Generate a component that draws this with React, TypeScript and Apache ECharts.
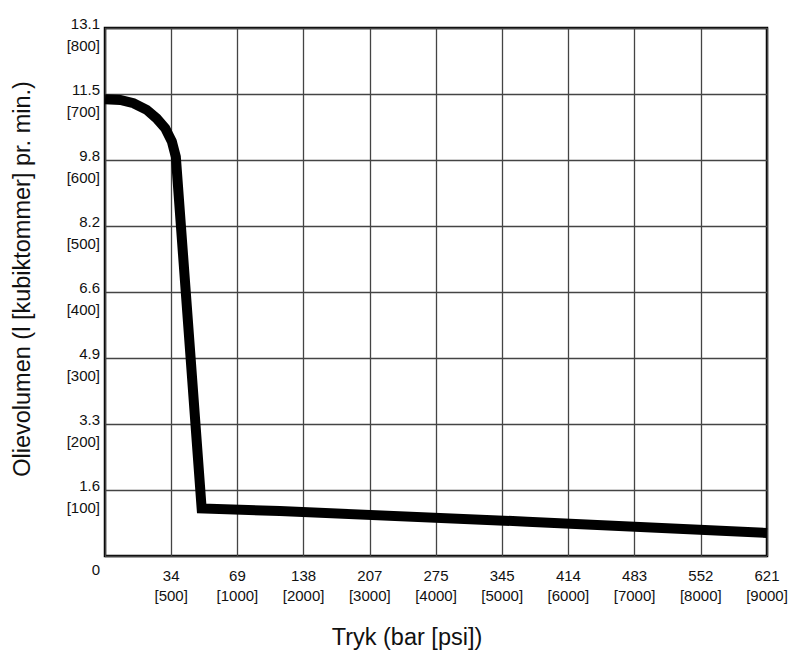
import React, { useEffect, useRef } from "react";
import * as echarts from "echarts";

// Pressure axis positions (grid steps: 0, 500 psi, 1000 psi, 2000 psi ... 9000 psi)
const xBar = ["", "34", "69", "138", "207", "275", "345", "414", "483", "552", "621"];
const xPsi = ["", "500", "1000", "2000", "3000", "4000", "5000", "6000", "7000", "8000", "9000"];

// Oil volume axis: litres per minute and [cubic inches]
const yLitres = ["0", "1.6", "3.3", "4.9", "6.6", "8.2", "9.8", "11.5", "13.1"];

// Curve: position on the pressure axis (grid steps) and flow in cubic inches
const curveX = [0, 0.23, 0.43, 0.63, 0.78, 0.91, 1.01, 1.07, 1.46, 2.64, 6.38, 10];
const curveFlow = [692, 691, 686, 676, 663, 648, 628, 605, 72, 68, 52, 35];

const FONT = "'Liberation Sans', Arial, Helvetica, sans-serif";

export default function App() {
  const ref = useRef<HTMLDivElement>(null);

  useEffect(() => {
    if (!ref.current) return;
    const chart = echarts.init(ref.current, undefined, { renderer: "svg" });
    const data = curveX.map((x, i) => [x, curveFlow[i]]);
    const tickLabel = { fontFamily: FONT, fontSize: 15, color: "#111" };

    chart.setOption({
      animation: false,
      backgroundColor: "#fff",
      grid: {
        left: 105,
        top: 28,
        width: 662,
        height: 528,
        show: true,
        borderColor: "#000",
        borderWidth: 2.5,
        backgroundColor: "transparent",
      },
      xAxis: {
        type: "value",
        min: 0,
        max: 10,
        interval: 1,
        axisLine: { show: false },
        axisTick: { show: false },
        splitLine: { show: true, lineStyle: { color: "#444", width: 1.3 } },
        axisLabel: {
          ...tickLabel,
          margin: 9,
          verticalAlign: "top",
          lineHeight: 20,
          formatter: (v: number) => {
            const i = Math.round(v);
            if (!xBar[i]) return "";
            return xBar[i] + "\n[" + xPsi[i] + "]";
          },
        },
      },
      yAxis: [
        {
          type: "value",
          min: 0,
          max: 800,
          interval: 100,
          position: "left",
          axisLine: { show: false },
          axisTick: { show: false },
          splitLine: { show: true, lineStyle: { color: "#444", width: 1.3 } },
          axisLabel: {
            ...tickLabel,
            margin: 5,
            verticalAlign: "bottom",
            lineHeight: 10,
            formatter: (v: number) => (v === 0 ? "" : yLitres[Math.round(v / 100)]),
          },
        },
        {
          type: "value",
          min: 0,
          max: 800,
          interval: 100,
          position: "left",
          axisLine: { show: false },
          axisTick: { show: false },
          splitLine: { show: false },
          axisLabel: {
            ...tickLabel,
            margin: 5,
            verticalAlign: "top",
            lineHeight: 35,
            formatter: (v: number) => (v === 0 ? "{z|0}" : "[" + v + "]"),
            rich: {
              z: { fontFamily: FONT, fontSize: 15, color: "#111", lineHeight: 26 },
            },
          },
        },
      ],
      series: [
        {
          type: "line",
          xAxisIndex: 0,
          yAxisIndex: 0,
          data,
          showSymbol: false,
          symbol: "none",
          smooth: false,
          clip: false,
          lineStyle: { color: "#000", width: 10, join: "miter", cap: "butt" },
        },
      ],
      graphic: [
        {
          type: "text",
          x: 22,
          y: 279,
          rotation: Math.PI / 2,
          style: {
            text: "Olievolumen (l [kubiktommer] pr. min.)",
            fontFamily: FONT,
            fontSize: 23.5,
            fill: "#111",
            align: "center",
            verticalAlign: "middle",
          },
        },
        {
          type: "text",
          x: 407,
          y: 637,
          style: {
            text: "Tryk (bar [psi])",
            fontFamily: FONT,
            fontSize: 23.5,
            fill: "#111",
            align: "center",
            verticalAlign: "middle",
          },
        },
      ],
    });

    return () => chart.dispose();
  }, []);

  return (
    <div
      ref={ref}
      style={{ position: "fixed", left: 0, top: 0, width: 794, height: 654, background: "#fff" }}
    />
  );
}
